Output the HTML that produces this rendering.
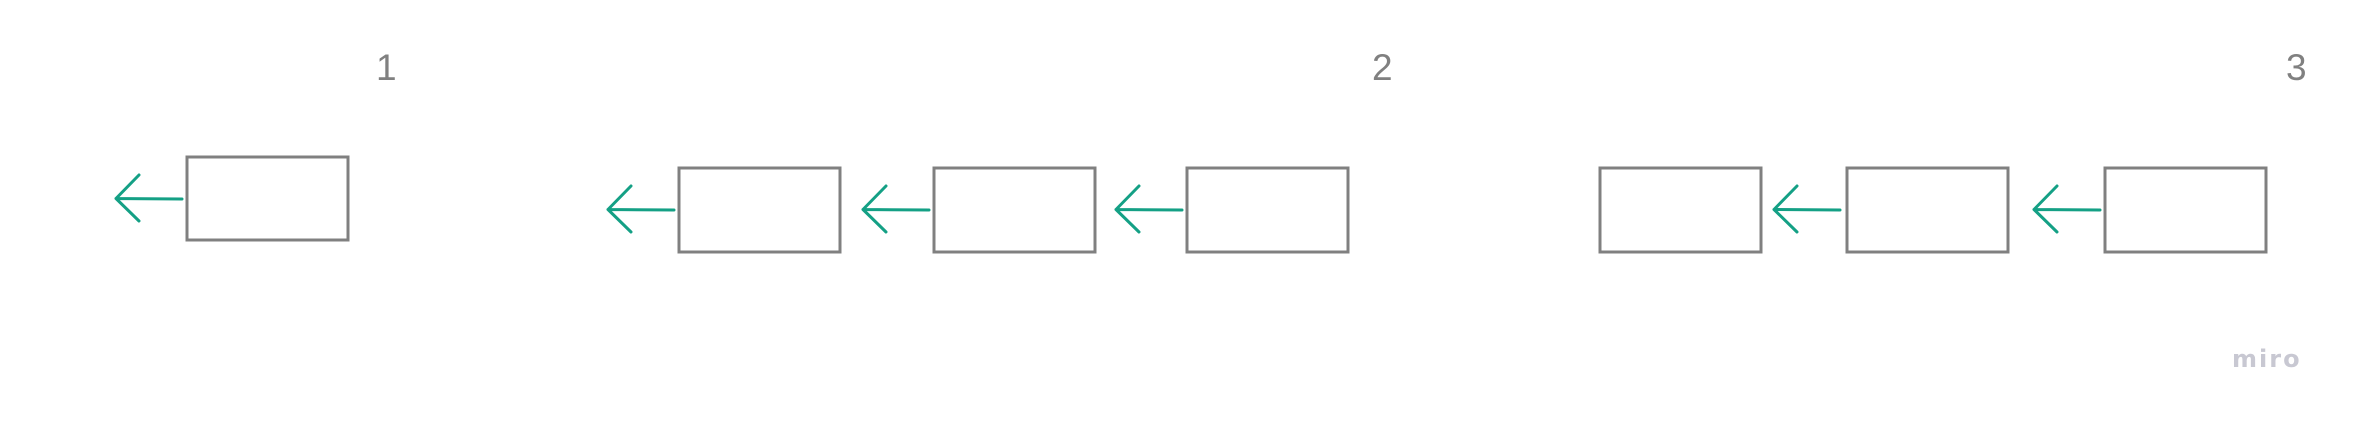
<!DOCTYPE html>
<html><head><meta charset="utf-8"><style>
html,body{margin:0;padding:0;background:#fff;width:2362px;height:423px;overflow:hidden}
svg{display:block}
</style></head><body>
<svg width="2362" height="423" viewBox="0 0 2362 423" xmlns="http://www.w3.org/2000/svg">
<g fill="#fff" stroke="#808080" stroke-width="3">
<rect x="187" y="157" width="161" height="83"/>
<rect x="679" y="168" width="161" height="84"/>
<rect x="934" y="168" width="161" height="84"/>
<rect x="1187" y="168" width="161" height="84"/>
<rect x="1600" y="168" width="161" height="84"/>
<rect x="1847" y="168" width="161" height="84"/>
<rect x="2105" y="168" width="161" height="84"/>
</g>
<g fill="none" stroke="#14a085" stroke-width="3" stroke-linecap="round" stroke-linejoin="round">
<path d="M182 199 L116 198.5 M139 175 L116 198.5 L139 221"/>
<path d="M674 210 L608 209.5 M631 186 L608 209.5 L631 232"/>
<path d="M929 210 L863 209.5 M886 186 L863 209.5 L886 232"/>
<path d="M1182 210 L1116 209.5 M1139 186 L1116 209.5 L1139 232"/>
<path d="M1840 210 L1774 209.5 M1797 186 L1774 209.5 L1797 232"/>
<path d="M2100 210 L2034 209.5 M2057 186 L2034 209.5 L2057 232"/>
</g>
<g font-family="Liberation Sans, sans-serif" font-size="37" fill="#808080">
<text x="376" y="80">1</text>
<text x="1372" y="80">2</text>
<text x="2286" y="80">3</text>
</g>
<text x="2232" y="367" font-family="DejaVu Sans, sans-serif" font-weight="bold" font-size="24" letter-spacing="2" fill="#c8c8d2">miro</text>
</svg>
</body></html>
